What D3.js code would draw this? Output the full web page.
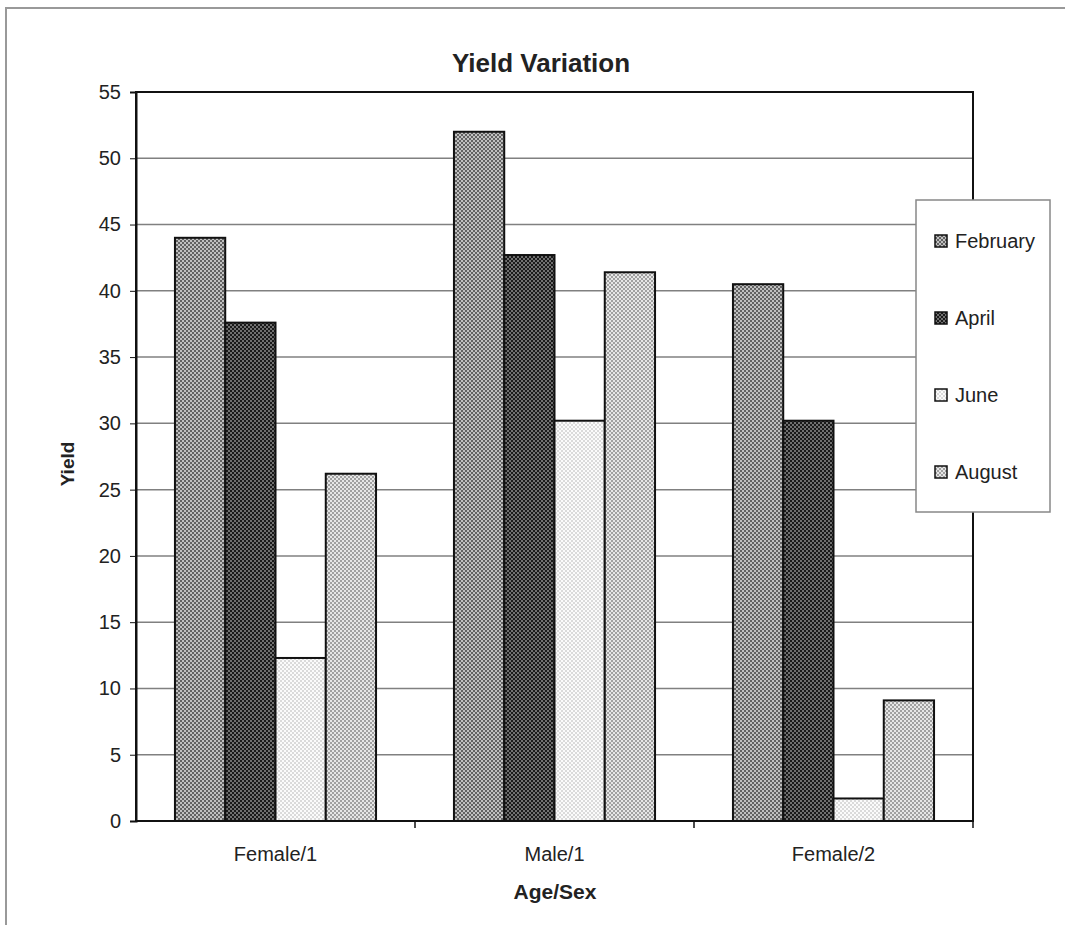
<!DOCTYPE html>
<html>
<head>
<meta charset="utf-8">
<script src="https://cdn.jsdelivr.net/npm/d3@7"></script>
<style>
  body { margin: 0; background: #fff; }
  text { font-family: "Liberation Sans", Arial, sans-serif; fill: #222; }
</style>
</head>
<body>
<svg id="chart" width="1065" height="925"></svg>
<script>
// data
const categories = ["Female/1", "Male/1", "Female/2"];
const months = ["February", "April", "June", "August"];
const february = [44.0, 52.0, 40.5];
const april = [37.6, 42.7, 30.2];
const june = [12.3, 30.2, 1.7];
const august = [26.2, 41.4, 9.1];
const yTicks = [0, 5, 10, 15, 20, 25, 30, 35, 40, 45, 50, 55];

const series = [february, april, june, august];

const svg = d3.select("#chart");

// outer frame of the scanned page
svg.append("path")
  .attr("d", "M6,925 V8 H1065")
  .attr("fill", "none")
  .attr("stroke", "#999")
  .attr("stroke-width", 2);

// checker patterns for each month
const patternColors = {
  February: ["#c0c0c0", "#626262"],
  April: ["#707070", "#1a1a1a"],
  June: ["#fbfbfb", "#dadada"],
  August: ["#e6e6e6", "#a0a0a0"]
};
const defs = svg.append("defs");
months.forEach(m => {
  const p = defs.append("pattern")
    .attr("id", "pat-" + m)
    .attr("patternUnits", "userSpaceOnUse")
    .attr("width", 4)
    .attr("height", 4);
  p.append("rect").attr("width", 4).attr("height", 4).attr("fill", patternColors[m][0]);
  p.append("rect").attr("width", 2).attr("height", 2).attr("fill", patternColors[m][1]);
  p.append("rect").attr("x", 2).attr("y", 2).attr("width", 2).attr("height", 2).attr("fill", patternColors[m][1]);
});

const plotLeft = 136, plotRight = 973, plotTop = 92, plotBottom = 821;

const x0 = d3.scaleBand().domain(categories).range([plotLeft, plotRight]).padding(0);
const x1 = d3.scaleBand().domain(months).range([0, x0.bandwidth()]).paddingInner(0).paddingOuter(0.775);
const y = d3.scaleLinear().domain([0, 55]).range([plotBottom, plotTop]);

// gridlines
svg.append("g")
  .selectAll("line")
  .data(yTicks.filter(t => t > 0 && t < 55))
  .enter()
  .append("line")
  .attr("x1", plotLeft)
  .attr("x2", plotRight)
  .attr("y1", d => y(d))
  .attr("y2", d => y(d))
  .attr("stroke", "#808080")
  .attr("stroke-width", 1.5);

// bars
const groups = svg.append("g")
  .selectAll("g")
  .data(categories)
  .enter()
  .append("g")
  .attr("transform", d => `translate(${x0(d)},0)`);

groups.selectAll("rect")
  .data((c, i) => months.map((m, j) => ({ month: m, value: series[j][i] })))
  .enter()
  .append("rect")
  .attr("x", d => x1(d.month))
  .attr("y", d => y(d.value))
  .attr("width", x1.bandwidth())
  .attr("height", d => plotBottom - y(d.value))
  .attr("fill", d => "url(#pat-" + d.month + ")")
  .attr("stroke", "#111")
  .attr("stroke-width", 2);

// plot frame
svg.append("rect")
  .attr("x", plotLeft)
  .attr("y", plotTop)
  .attr("width", plotRight - plotLeft)
  .attr("height", plotBottom - plotTop)
  .attr("fill", "none")
  .attr("stroke", "#111")
  .attr("stroke-width", 2);

// y axis
const yAxis = svg.append("g")
  .attr("transform", `translate(${plotLeft},0)`)
  .call(d3.axisLeft(y).tickValues(yTicks).tickSize(6).tickPadding(9));
yAxis.select(".domain").attr("stroke", "#111").attr("stroke-width", 2);
yAxis.selectAll(".tick line").attr("stroke", "#111");
yAxis.selectAll(".tick text")
  .attr("font-size", 20)
  .attr("font-family", "Liberation Sans, Arial, sans-serif")
  .attr("fill", "#222");

// x axis
const xAxis = svg.append("g")
  .attr("transform", `translate(0,${plotBottom})`)
  .call(d3.axisBottom(x0).tickSize(0).tickPadding(26));
xAxis.select(".domain").remove();
xAxis.selectAll(".tick text")
  .attr("font-size", 20)
  .attr("font-family", "Liberation Sans, Arial, sans-serif")
  .attr("fill", "#222");

// category separator ticks
svg.append("g")
  .selectAll("line")
  .data(categories)
  .enter()
  .append("line")
  .attr("x1", d => x0(d) + x0.bandwidth())
  .attr("x2", d => x0(d) + x0.bandwidth())
  .attr("y1", plotBottom)
  .attr("y2", plotBottom + 7)
  .attr("stroke", "#111")
  .attr("stroke-width", 1.5);

// titles
svg.append("text")
  .attr("x", 541)
  .attr("y", 72)
  .attr("text-anchor", "middle")
  .attr("font-size", 26)
  .attr("font-weight", "bold")
  .text("Yield Variation");

svg.append("text")
  .attr("x", 555)
  .attr("y", 899)
  .attr("text-anchor", "middle")
  .attr("font-size", 21)
  .attr("font-weight", "bold")
  .text("Age/Sex");

svg.append("text")
  .attr("transform", "translate(74,464) rotate(-90)")
  .attr("text-anchor", "middle")
  .attr("font-size", 19)
  .attr("font-weight", "bold")
  .text("Yield");

// legend
const legend = svg.append("g");
legend.append("rect")
  .attr("x", 916)
  .attr("y", 200)
  .attr("width", 134)
  .attr("height", 312)
  .attr("fill", "#fff")
  .attr("stroke", "#888")
  .attr("stroke-width", 1.5);

const legendY = d3.scalePoint().domain(months).range([241, 472]);
const items = legend.selectAll("g.item")
  .data(months)
  .enter()
  .append("g")
  .attr("class", "item")
  .attr("transform", d => `translate(935,${legendY(d)})`);

items.append("rect")
  .attr("x", 0)
  .attr("y", -6)
  .attr("width", 12)
  .attr("height", 12)
  .attr("fill", d => "url(#pat-" + d + ")")
  .attr("stroke", "#111")
  .attr("stroke-width", 1.5);

items.append("text")
  .attr("x", 20)
  .attr("y", 7)
  .attr("font-size", 20)
  .text(d => d);
</script>
</body>
</html>
